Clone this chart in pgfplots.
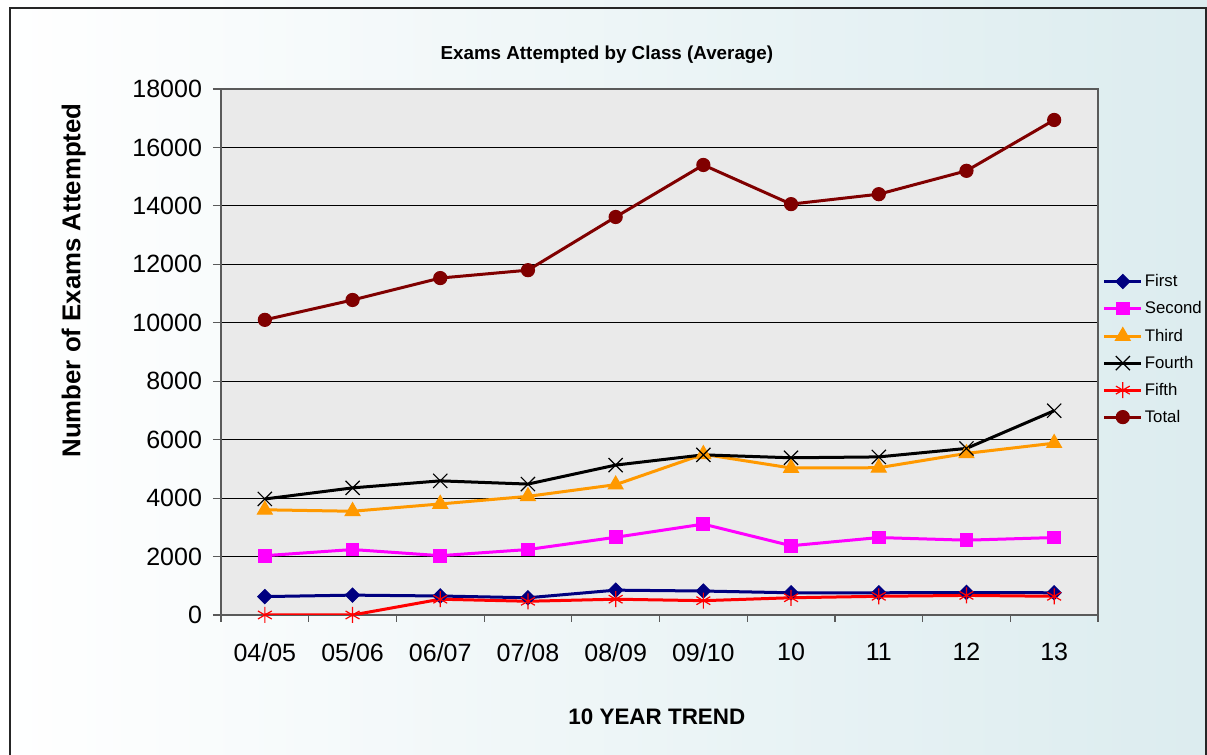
\documentclass[border=0pt]{standalone}
\usepackage{pgfplots}
\pgfplotsset{compat=1.18}
\usepackage{pgfplotstable}
\usepackage{fontspec}
\setmainfont{Liberation Sans}
\definecolor{bgR}{RGB}{220,236,239}
\definecolor{plotbg}{RGB}{234,234,234}
\definecolor{cFirst}{RGB}{0,0,128}
\definecolor{cSecond}{RGB}{255,0,255}
\definecolor{cThird}{RGB}{255,153,0}
\definecolor{cFifth}{RGB}{255,0,0}
\definecolor{cTotal}{RGB}{128,0,0}
\definecolor{axgray}{RGB}{90,90,90}
\pgfplotstableread{
x First Second Third Fourth Fifth Total
0 630 2030 3600 3970 0 10100
1 680 2240 3550 4350 0 10780
2 650 2030 3800 4590 540 11530
3 590 2240 4060 4480 470 11800
4 850 2660 4460 5130 540 13620
5 820 3110 5500 5480 490 15400
6 760 2370 5030 5380 590 14060
7 760 2650 5040 5410 640 14400
8 770 2560 5530 5700 670 15200
9 760 2650 5880 6990 640 16940
}\datatable
\begin{document}
\begin{tikzpicture}
\useasboundingbox (0,0) rectangle (603.5pt,377.5pt);
\shade[left color=white, right color=bgR] (0,0) rectangle (603.5pt,377.5pt);
\draw[black!85, line width=0.8pt] (5pt,-2pt) -- (5pt,373.5pt) -- (603pt,373.5pt) -- (603pt,-2pt);
\begin{axis}[
  at={(110.5pt,70pt)}, anchor=south west,
  scale only axis, width=438.5pt, height=263pt,
  xmin=-0.5, xmax=9.5, ymin=0, ymax=18000,
  xtick={0,...,9},
  xticklabels={04/05,05/06,06/07,07/08,08/09,09/10,10,11,12,13},
  minor xtick={-0.5,0.5,...,9.5},
  ytick={0,2000,...,18000},
  xtick pos=bottom, ytick pos=left,
  major x tick style={draw=none},
  tick align=outside,
  minor tick length=3.5pt,
  major tick length=4pt,
  tick style={axgray, line width=0.6pt},
  axis line style={axgray, line width=0.9pt},
  axis background/.style={fill=plotbg},
  ymajorgrids,
  grid style={black, line width=0.5pt},
  /pgf/number format/assume math mode=true,
  scaled y ticks=false,
  yticklabel={\pgfmathprintnumber[fixed,precision=0,set thousands separator={}]{\tick}},
  ticklabel style={font=\fontsize{12.5}{14}\selectfont},
  xticklabel style={yshift=-6.5pt},
  yticklabel style={xshift=-2pt},
  title={\bfseries Exams Attempted by Class (Average)},
  title style={at={(axis description cs:0.44,1.0415)}, anchor=center, font=\fontsize{9.4}{11}\selectfont},
  xlabel={\bfseries 10 YEAR TREND},
  xlabel style={at={(axis description cs:0.497,-0.194)}, anchor=center, font=\fontsize{11.2}{13}\selectfont},
  ylabel={\bfseries Number of Exams Attempted},
  ylabel style={at={(axis description cs:-0.168,0.636)}, anchor=center, rotate=0, font=\fontsize{12.9}{15}\selectfont},
  legend cell align=left,
  legend style={draw=none, fill=none, inner sep=0pt, at={(axis description cs:1.005,0.65)}, anchor=north west,
    font=\fontsize{8.4}{10}\selectfont, row sep=5.5pt,
    nodes={text height=6.5pt, text depth=1.5pt, inner sep=0pt}, column sep=1pt},
  legend image code/.code={\draw[mark repeat=2,mark phase=2,#1] plot coordinates {(0pt,0pt) (9.25pt,0pt) (18.5pt,0pt)};},
  every axis plot/.append style={line width=1.5pt},
]
\addplot[cFirst, mark=square*, mark size=2.5pt, mark options={solid, fill=cFirst, line width=0.5pt, rotate=45}] table[x=x, y=First] {\datatable};
\addlegendentry{First}
\addplot[cSecond, mark=square*, mark size=3.2pt, mark options={solid, fill=cSecond, line width=0.5pt}] table[x=x, y=Second] {\datatable};
\addlegendentry{Second}
\addplot[cThird, mark=triangle*, mark size=4.3pt, mark options={solid, fill=cThird, line width=0.5pt}] table[x=x, y=Third] {\datatable};
\addlegendentry{Third}
\addplot[black, mark=x, mark size=5pt, mark options={solid, line width=0.6pt}] table[x=x, y=Fourth] {\datatable};
\addlegendentry{Fourth}
\addplot[cFifth, mark=asterisk, mark size=4pt, mark options={solid, line width=0.6pt}] table[x=x, y=Fifth] {\datatable};
\addlegendentry{Fifth}
\addplot[cTotal, mark=*, mark size=3.3pt, mark options={solid, fill=cTotal, line width=0.5pt}] table[x=x, y=Total] {\datatable};
\addlegendentry{Total}
\end{axis}
\end{tikzpicture}
\end{document}
